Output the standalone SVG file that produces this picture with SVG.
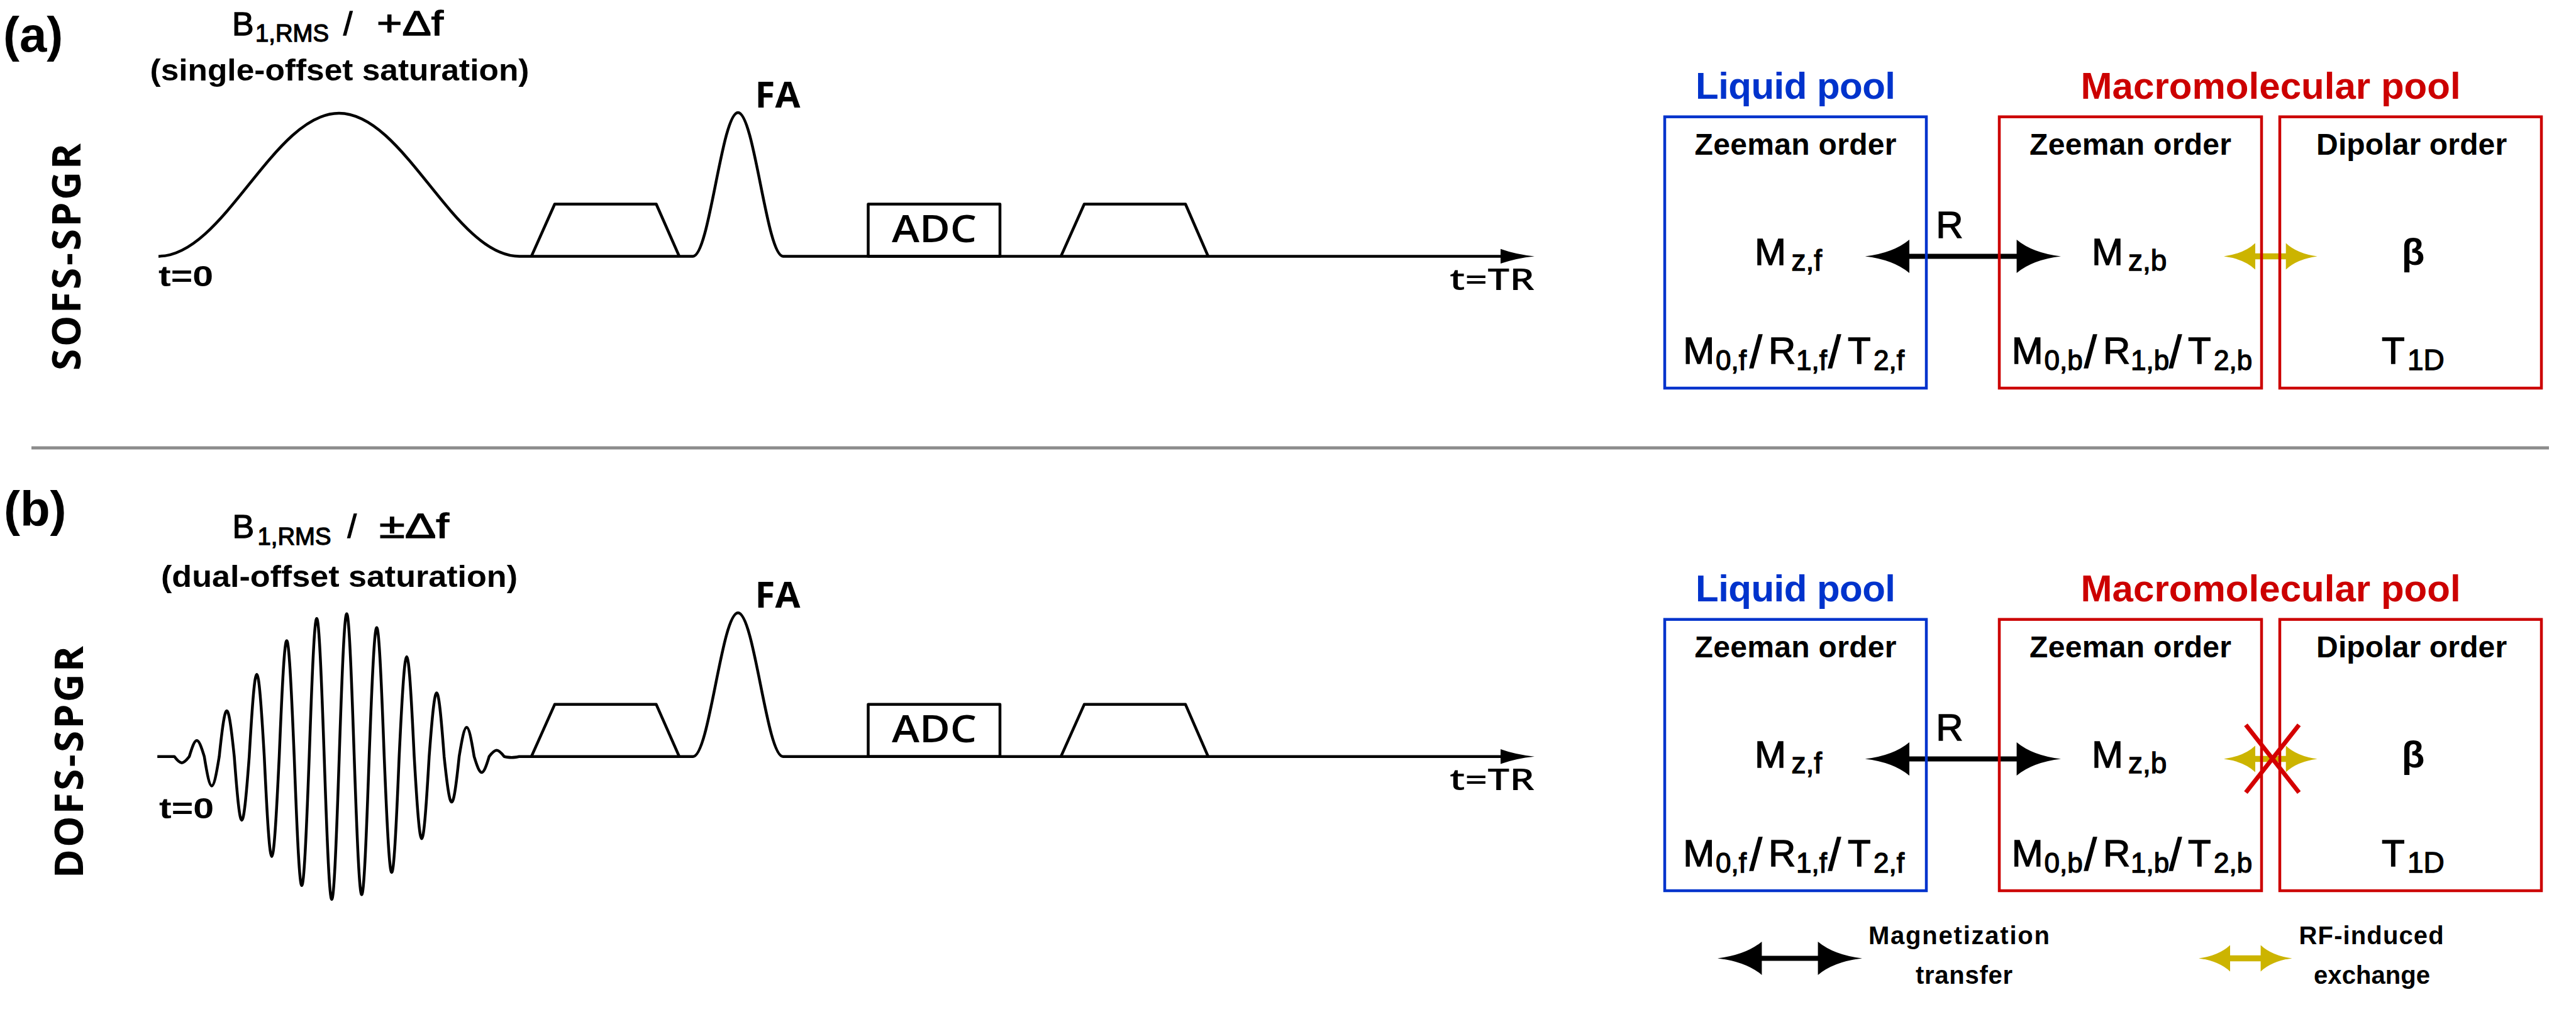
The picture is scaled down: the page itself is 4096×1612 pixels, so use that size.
<svg xmlns="http://www.w3.org/2000/svg" width="4096" height="1612" viewBox="0 0 4096 1612">
<style>
text { font-family: "Liberation Sans", Arial, sans-serif; fill: #000; }
.b { font-weight: bold; }
.m { stroke: #000; stroke-width: 1.3px; }
.os { font-family: "Open Sans", "Liberation Sans", sans-serif; font-weight: 600; }
.osb { font-family: "Open Sans", "Liberation Sans", sans-serif; font-weight: 700; }
.seq { fill: none; stroke: #000; stroke-width: 4.5; stroke-linejoin: round; }
.boxB { fill: none; stroke: #0033CC; stroke-width: 4.5; }
.boxR { fill: none; stroke: #CC0000; stroke-width: 4.5; }
.tB { fill: #0033CC; font-weight: bold; }
.tR { fill: #CC0000; font-weight: bold; }
.shaftK { stroke: #000; stroke-width: 8; }
.shaftY { stroke: #CCB400; stroke-width: 9.5; }
.cross { stroke: #D40000; stroke-width: 7; }
</style>
<defs>
<path id="headK" d="M0,0 Q-45,-5.3 -70.4,-26.5 L-70.4,26.5 Q-45,5.3 0,0 Z" fill="#000"/>
<path id="headY" d="M0,0 Q-32,-4.2 -50,-21 L-50,21 Q-32,4.2 0,0 Z" fill="#CCB400"/>
<path id="headAx" d="M0,0 Q-30,-3 -54,-11.7 L-54,11.7 Q-30,3 0,0 Z" fill="#000"/>
</defs>
<rect width="4096" height="1612" fill="#fff"/>

<line x1="50" y1="712" x2="4053" y2="712" stroke="#8c8c8c" stroke-width="5"/>

<!-- Panel (a) sequence -->
<g id="panel-a-sequence">
<text x="5" y="82" class="b" font-size="78">(a)</text>
<text transform="translate(128,408.5) rotate(-90)" text-anchor="middle" class="osb" font-size="62" textLength="361">SOFS-SPGR</text>
<text y="56" font-size="52" class="m"><tspan x="369">B</tspan><tspan x="406" dy="10" font-size="38" textLength="117" lengthAdjust="spacingAndGlyphs">1,RMS</tspan><tspan x="546" dy="-10">/</tspan><tspan x="599" font-size="56" textLength="106" lengthAdjust="spacingAndGlyphs">+Δf</tspan></text>
<text x="540" y="128" text-anchor="middle" class="b" font-size="48" textLength="603" lengthAdjust="spacingAndGlyphs">(single-offset saturation)</text>
<path class="seq" d="M252,407.4 C356.3,407.4 434.7,180 539,180 C643.3,180 721.7,407.4 826,407.4 L1102,407.4 C1128,407.4 1147.5,179 1173.5,179 C1199.5,179 1219,407.4 1245,407.4 L2388,407.4"/>
<use href="#headAx" transform="translate(2440,407.4)"/>
<path class="seq" d="M845,407.4 L882,324.5 L1043.5,324.5 L1080,407.4"/>
<path class="seq" d="M1687,407.4 L1724,324.5 L1885,324.5 L1921,407.4"/>
<rect class="seq" x="1380.5" y="324.5" width="209.5" height="82.9"/>
<text x="1236.5" y="170.8" text-anchor="middle" class="osb" font-size="58">FA</text>
<text x="1485.4" y="384.6" text-anchor="middle" class="os" font-size="59" textLength="135" lengthAdjust="spacingAndGlyphs">ADC</text>
<text x="252" y="455" class="b" font-size="46" textLength="87" lengthAdjust="spacingAndGlyphs">t=0</text>
<text x="2440" y="461" text-anchor="end" class="os" font-size="47" textLength="135" lengthAdjust="spacingAndGlyphs">t=TR</text>
</g>

<!-- Panel (b) sequence -->
<g id="panel-b-sequence">
<text x="6" y="836" class="b" font-size="78">(b)</text>
<text transform="translate(132.4,1211.6) rotate(-90)" text-anchor="middle" class="osb" font-size="62" textLength="369">DOFS-SPGR</text>
<text y="855.3" font-size="52" class="m"><tspan x="369.6">B</tspan><tspan x="409.5" dy="10.7" font-size="38" textLength="117" lengthAdjust="spacingAndGlyphs">1,RMS</tspan><tspan x="552.6" dy="-10.7">/</tspan><tspan x="603" font-size="56" textLength="111" lengthAdjust="spacingAndGlyphs">±Δf</tspan></text>
<text x="539.5" y="933" text-anchor="middle" class="b" font-size="48" textLength="567" lengthAdjust="spacingAndGlyphs">(dual-offset saturation)</text>
<path class="seq" d="M250.2,1202.7 L277.2,1202.7 C287.3,1216.0 290.9,1216.0 301.0,1202.7 C311.1,1168.7 314.7,1168.7 324.8,1202.7 C334.9,1265.0 338.5,1265.0 348.6,1202.7 C358.8,1105.9 362.4,1105.9 372.5,1202.7 C382.6,1337.6 386.2,1337.6 396.3,1202.7 C406.5,1028.4 410.1,1028.4 420.2,1202.7 C430.3,1414.7 433.9,1414.7 444.0,1202.7 C454.1,957.0 457.7,957.0 467.8,1202.7 C478.0,1476.0 481.6,1476.0 491.7,1202.7 C501.8,910.0 505.4,910.0 515.5,1202.7 C525.7,1505.5 529.3,1505.5 539.4,1202.7 C549.5,900.0 553.1,900.0 563.2,1202.7 C573.3,1495.4 576.9,1495.4 587.0,1202.7 C597.2,929.5 600.8,929.5 610.9,1202.7 C621.0,1448.3 624.6,1448.3 634.7,1202.7 C644.9,991.0 648.5,991.0 658.6,1202.7 C668.7,1376.7 672.3,1376.7 682.4,1202.7 C692.5,1067.9 696.1,1067.9 706.2,1202.7 C716.4,1299.2 720.0,1299.2 730.1,1202.7 C740.2,1140.6 743.8,1140.6 753.9,1202.7 C764.1,1236.4 767.7,1236.4 777.8,1202.7 C787.9,1189.5 791.5,1189.5 801.6,1202.7 C811.7,1204.7 815.3,1204.7 825.4,1202.7 L1102,1202.7 C1128,1202.7 1147.5,974.3 1173.5,974.3 C1199.5,974.3 1219,1202.7 1245,1202.7 L2388,1202.7"/>
<use href="#headAx" transform="translate(2440,1202.7)"/>
<path class="seq" d="M845,1202.7 L882,1119.8 L1043.5,1119.8 L1080,1202.7"/>
<path class="seq" d="M1687,1202.7 L1724,1119.8 L1885,1119.8 L1921,1202.7"/>
<rect class="seq" x="1380.5" y="1119.8" width="209.5" height="82.9"/>
<text x="1236.5" y="966.1" text-anchor="middle" class="osb" font-size="58">FA</text>
<text x="1485.4" y="1179.9" text-anchor="middle" class="os" font-size="59" textLength="135" lengthAdjust="spacingAndGlyphs">ADC</text>
<text x="253" y="1300.7" class="b" font-size="46" textLength="87" lengthAdjust="spacingAndGlyphs">t=0</text>
<text x="2440" y="1256.3" text-anchor="end" class="os" font-size="47" textLength="135" lengthAdjust="spacingAndGlyphs">t=TR</text>
</g>

<!-- Connectors -->
<g id="connectors">
<line class="shaftK" x1="3030" y1="407.4" x2="3213" y2="407.4"/>
<use href="#headK" transform="translate(2965.6,407.4) scale(-1,1)"/>
<use href="#headK" transform="translate(3277,407.4)"/>
<text x="3100" y="377.7" text-anchor="middle" font-size="60" class="m">R</text>
<line class="shaftY" x1="3580" y1="407.4" x2="3642" y2="407.4"/>
<use href="#headY" transform="translate(3536,407.4) scale(-1,1)"/>
<use href="#headY" transform="translate(3684.7,407.4)"/>

<line class="shaftK" x1="3030" y1="1206.4" x2="3213" y2="1206.4"/>
<use href="#headK" transform="translate(2965.6,1206.4) scale(-1,1)"/>
<use href="#headK" transform="translate(3277,1206.4)"/>
<text x="3100" y="1176.7" text-anchor="middle" font-size="60" class="m">R</text>
<line class="shaftY" x1="3580" y1="1206.4" x2="3642" y2="1206.4"/>
<use href="#headY" transform="translate(3536,1206.4) scale(-1,1)"/>
<use href="#headY" transform="translate(3684.7,1206.4)"/>
</g>

<!-- Pool titles -->
<g id="title-liquid-a"><text x="2855" y="156.5" text-anchor="middle" class="tB" font-size="60" textLength="318">Liquid pool</text></g>
<g id="title-macro-a"><text x="3610.6" y="156.5" text-anchor="middle" class="tR" font-size="60" textLength="604">Macromolecular pool</text></g>

<!-- Nodes panel a -->
<g id="node-liquid-zeeman-a">
<rect class="boxB" x="2647" y="185.7" width="416" height="431.3"/>
<text x="2855" y="245.6" text-anchor="middle" class="b" font-size="48" textLength="321">Zeeman order</text>
<text y="420.5" font-size="60" class="m"><tspan x="2790">M</tspan><tspan x="2848.6" dy="9" font-size="46">z,f</tspan></text>
<text y="578" font-size="60" class="m"><tspan x="2676.2">M</tspan><tspan x="2728" dy="9.7" font-size="44">0,f</tspan><tspan x="2782" dy="-3.7" font-size="72">/</tspan><tspan x="2812" dy="-6">R</tspan><tspan x="2856" dy="9.7" font-size="44">1,f</tspan><tspan x="2907" dy="-3.7" font-size="72">/</tspan><tspan x="2938" dy="-6">T</tspan><tspan x="2979" dy="9.7" font-size="44">2,f</tspan></text>
</g>
<g id="node-macro-zeeman-a">
<rect class="boxR" x="3179" y="185.7" width="417" height="431.3"/>
<text x="3387.5" y="245.6" text-anchor="middle" class="b" font-size="48" textLength="321">Zeeman order</text>
<text y="420.5" font-size="60" class="m"><tspan x="3326">M</tspan><tspan x="3384" dy="9" font-size="46">z,b</tspan></text>
<text y="578" font-size="60" class="m"><tspan x="3198.7">M</tspan><tspan x="3250.5" dy="9.7" font-size="44">0,b</tspan><tspan x="3314" dy="-3.7" font-size="72">/</tspan><tspan x="3344" dy="-6">R</tspan><tspan x="3388" dy="9.7" font-size="44">1,b</tspan><tspan x="3449" dy="-3.7" font-size="72">/</tspan><tspan x="3479" dy="-6">T</tspan><tspan x="3520" dy="9.7" font-size="44">2,b</tspan></text>
</g>
<g id="node-macro-dipolar-a">
<rect class="boxR" x="3625" y="185.7" width="416" height="431.3"/>
<text x="3834.6" y="245.6" text-anchor="middle" class="b" font-size="48" textLength="303">Dipolar order</text>
<text x="3837" y="420.5" text-anchor="middle" class="b" font-size="60">β</text>
<text y="578" font-size="60" class="m"><tspan x="3787">T</tspan><tspan x="3828" dy="9.7" font-size="46">1D</tspan></text>
</g>

<!-- Pool titles b -->
<g id="title-liquid-b"><text x="2855" y="955.5" text-anchor="middle" class="tB" font-size="60" textLength="318">Liquid pool</text></g>
<g id="title-macro-b"><text x="3610.6" y="955.5" text-anchor="middle" class="tR" font-size="60" textLength="604">Macromolecular pool</text></g>

<!-- Nodes panel b -->
<g id="node-liquid-zeeman-b">
<rect class="boxB" x="2647" y="984.7" width="416" height="431.3"/>
<text x="2855" y="1044.6" text-anchor="middle" class="b" font-size="48" textLength="321">Zeeman order</text>
<text y="1219.5" font-size="60" class="m"><tspan x="2790">M</tspan><tspan x="2848.6" dy="9" font-size="46">z,f</tspan></text>
<text y="1377" font-size="60" class="m"><tspan x="2676.2">M</tspan><tspan x="2728" dy="9.7" font-size="44">0,f</tspan><tspan x="2782" dy="-3.7" font-size="72">/</tspan><tspan x="2812" dy="-6">R</tspan><tspan x="2856" dy="9.7" font-size="44">1,f</tspan><tspan x="2907" dy="-3.7" font-size="72">/</tspan><tspan x="2938" dy="-6">T</tspan><tspan x="2979" dy="9.7" font-size="44">2,f</tspan></text>
</g>
<g id="node-macro-zeeman-b">
<rect class="boxR" x="3179" y="984.7" width="417" height="431.3"/>
<text x="3387.5" y="1044.6" text-anchor="middle" class="b" font-size="48" textLength="321">Zeeman order</text>
<text y="1219.5" font-size="60" class="m"><tspan x="3326">M</tspan><tspan x="3384" dy="9" font-size="46">z,b</tspan></text>
<text y="1377" font-size="60" class="m"><tspan x="3198.7">M</tspan><tspan x="3250.5" dy="9.7" font-size="44">0,b</tspan><tspan x="3314" dy="-3.7" font-size="72">/</tspan><tspan x="3344" dy="-6">R</tspan><tspan x="3388" dy="9.7" font-size="44">1,b</tspan><tspan x="3449" dy="-3.7" font-size="72">/</tspan><tspan x="3479" dy="-6">T</tspan><tspan x="3520" dy="9.7" font-size="44">2,b</tspan></text>
</g>
<g id="node-macro-dipolar-b">
<rect class="boxR" x="3625" y="984.7" width="416" height="431.3"/>
<text x="3834.6" y="1044.6" text-anchor="middle" class="b" font-size="48" textLength="303">Dipolar order</text>
<text x="3837" y="1219.5" text-anchor="middle" class="b" font-size="60">β</text>
<text y="1377" font-size="60" class="m"><tspan x="3787">T</tspan><tspan x="3828" dy="9.7" font-size="46">1D</tspan></text>
</g>

<!-- Blocked exchange cross -->
<g id="blocked-cross">
<line class="cross" x1="3571" y1="1152.3" x2="3655.6" y2="1259.8"/>
<line class="cross" x1="3655.6" y1="1152.3" x2="3571" y2="1259.8"/>
</g>

<!-- Legend -->
<g id="legend">
<line class="shaftK" x1="2795" y1="1523.4" x2="2897" y2="1523.4"/>
<use href="#headK" transform="translate(2731,1523.4) scale(-1,1)"/>
<use href="#headK" transform="translate(2961,1523.4)"/>
<text x="3115" y="1501.3" text-anchor="middle" class="b" font-size="40" textLength="288">Magnetization</text>
<text x="3123" y="1563.5" text-anchor="middle" class="b" font-size="40" textLength="154">transfer</text>
<line class="shaftY" x1="3542" y1="1523.4" x2="3600" y2="1523.4"/>
<use href="#headY" transform="translate(3496,1523.4) scale(-1,1)"/>
<use href="#headY" transform="translate(3644.6,1523.4)"/>
<text x="3770.6" y="1501.3" text-anchor="middle" class="b" font-size="40" textLength="230">RF-induced</text>
<text x="3771.5" y="1563.5" text-anchor="middle" class="b" font-size="40" textLength="185">exchange</text>
</g>
</svg>
